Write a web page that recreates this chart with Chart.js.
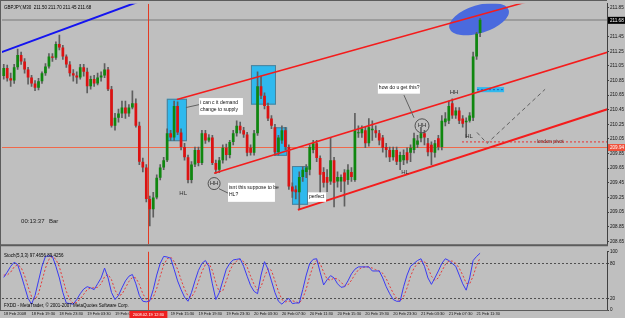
<!DOCTYPE html>
<html><head><meta charset="utf-8">
<script src="https://cdn.jsdelivr.net/npm/chart.js@4.4.0/dist/chart.umd.min.js"></script>
<style>
html,body{margin:0;padding:0;background:#bfbfbf;}
#wrap{position:relative;width:625px;height:318px;overflow:hidden;background:#bfbfbf;}
#c1{position:absolute;left:0;top:0;}
#c2{position:absolute;left:0;top:248px;}
</style></head><body>
<div id="wrap"><canvas id="c1" width="625" height="248"></canvas><canvas id="c2" width="625" height="70"></canvas></div>
<script>
// ---------- DATA ----------
const opens=[210.91,211.02,210.88,210.85,211.03,211.20,211.11,211.00,210.89,210.81,
210.75,210.84,210.95,211.04,211.18,211.16,211.35,211.30,211.18,211.07,
210.95,210.92,210.89,211.03,210.97,210.77,210.87,210.81,210.89,210.92,
211.00,210.73,210.23,210.34,210.40,210.48,210.40,210.48,210.54,210.23,
209.74,209.66,209.23,209.09,209.25,209.52,209.66,209.76,210.13,210.07,
210.50,210.14,209.94,209.80,209.49,209.70,209.90,209.72,210.13,210.03,
210.07,209.72,209.63,209.76,209.93,209.83,210.01,210.13,210.23,210.17,
210.11,209.93,209.86,210.13,210.77,210.64,210.50,210.33,210.21,209.87,
210.03,210.17,209.94,209.40,209.36,209.32,209.53,209.60,209.63,209.90,
209.99,209.79,209.60,209.53,209.47,209.76,209.47,209.47,209.59,209.49,
209.60,209.49,210.13,210.13,210.17,209.99,210.17,210.17,210.13,210.07,
209.94,209.90,209.80,209.90,209.74,209.76,209.87,209.86,209.90,209.97,
210.06,210.13,209.99,209.97,209.86,210.06,209.94,210.28,210.30,210.54,
210.37,210.44,210.33,210.28,210.30,210.34,211.18,211.50];
const highs=[211.07,211.06,210.95,211.07,211.28,211.24,211.15,211.03,210.92,210.85,
210.88,210.97,211.08,211.22,211.22,211.38,211.47,211.33,211.20,211.11,
211.00,210.97,211.07,211.07,211.02,210.91,210.92,210.95,210.97,211.08,
211.03,210.77,210.40,210.46,210.57,210.57,210.52,210.71,210.60,210.28,
209.79,209.70,209.27,209.32,209.56,209.70,209.80,210.19,210.17,210.57,
210.56,210.19,209.99,209.83,209.74,209.94,209.94,210.17,210.17,210.11,
210.10,209.76,209.80,209.97,209.98,210.03,210.17,210.30,210.28,210.21,
210.14,209.97,210.17,210.97,210.91,210.68,210.54,210.37,210.25,210.10,
210.23,210.21,209.97,209.45,209.41,209.60,209.67,209.70,209.97,210.03,
210.03,209.82,209.66,209.63,210.07,209.80,209.60,209.56,209.63,209.70,
209.66,210.40,210.23,210.23,210.21,210.33,210.30,210.23,210.17,210.10,
209.99,209.94,209.94,209.94,209.87,209.90,209.93,209.97,210.13,210.10,
210.21,210.17,210.06,210.01,210.03,210.10,210.37,210.41,210.57,210.60,
210.48,210.48,210.37,210.34,210.41,211.24,211.51,211.70];
const lows=[210.87,210.84,210.77,210.81,211.00,211.07,210.95,210.80,210.77,210.71,
210.72,210.81,210.92,211.02,211.11,211.14,211.27,211.14,211.03,210.91,
210.84,210.81,210.87,210.91,210.68,210.73,210.77,210.79,210.84,210.89,
210.71,210.21,210.17,210.28,210.34,210.33,210.36,210.46,210.21,209.70,
209.60,209.19,208.86,208.98,209.23,209.49,209.63,209.74,210.03,210.03,
210.11,209.90,209.76,209.45,209.45,209.67,209.68,209.70,209.99,210.01,
209.70,209.58,209.59,209.72,209.76,209.79,209.97,210.09,210.13,210.07,
209.82,209.83,209.83,210.10,210.60,210.46,210.30,210.19,209.83,209.83,
209.99,209.90,209.36,209.25,209.23,209.09,209.47,209.52,209.56,209.86,
209.74,209.23,209.39,209.33,209.43,209.12,209.39,209.33,209.13,209.43,
209.47,209.47,210.07,210.07,209.93,209.95,210.03,210.07,209.97,209.87,
209.80,209.74,209.76,209.70,209.63,209.70,209.72,209.74,209.86,209.93,
210.01,209.97,209.82,209.70,209.80,209.90,209.90,210.23,210.26,210.33,
210.33,210.26,210.21,210.07,210.28,210.30,211.14,211.45];
const closes=[211.02,210.88,210.85,211.03,211.20,211.11,211.00,210.89,210.81,210.75,
210.84,210.95,211.04,211.18,211.16,211.35,211.30,211.18,211.07,210.95,
210.92,210.89,211.03,210.97,210.77,210.87,210.81,210.89,210.92,211.00,
210.73,210.23,210.34,210.40,210.48,210.40,210.48,210.54,210.23,209.74,
209.66,209.23,209.09,209.25,209.52,209.66,209.76,210.13,210.07,210.50,
210.14,209.94,209.80,209.49,209.70,209.90,209.72,210.13,210.03,210.07,
209.72,209.63,209.76,209.93,209.83,210.01,210.13,210.23,210.17,210.11,
209.86,209.86,210.13,210.77,210.64,210.50,210.33,210.23,209.87,210.07,
210.17,209.94,209.40,209.33,209.32,209.53,209.63,209.66,209.94,209.99,
209.79,209.56,209.45,209.45,209.76,209.45,209.53,209.53,209.47,209.63,
209.53,210.17,210.14,210.19,209.99,210.21,210.19,210.13,210.03,209.93,
209.90,209.80,209.90,209.74,209.83,209.83,209.76,209.93,210.06,210.03,
210.13,210.07,209.87,209.87,209.99,209.94,210.30,210.33,210.50,210.37,
210.44,210.30,210.26,210.30,210.37,211.18,211.49,211.68];
const stochMain=[56,65,75,82,78,60,40,20,10,25,
50,75,92,93,92,75,55,30,12,11,
10,18,28,36,40,38,35,45,55,72,
55,30,18,25,38,50,58,61,45,25,
15,14,16,35,60,80,92,91,89,70,
50,35,22,15,30,50,68,80,85,75,
45,18,30,50,70,80,86,87,88,75,
58,42,32,28,60,83,70,50,30,15,
10,16,20,11,12,12,35,60,80,87,
88,65,43,52,59,55,45,39,40,50,
62,70,74,74,74,74,67,67,67,55,
40,28,18,15,15,40,60,75,80,85,
88,75,55,44,55,67,80,88,85,80,
75,60,45,34,55,85,92,97.47];
const stochSignal=[60,60,65,74,78,73,59,40,23,18,
28,50,72,87,92,87,74,53,32,18,
11,13,19,27,35,38,38,39,45,57,
61,52,34,24,27,38,49,56,55,44,
28,18,15,22,37,58,77,88,91,83,
70,52,36,24,22,32,49,66,78,80,
68,46,31,33,50,67,79,84,87,83,
74,58,44,34,40,57,71,68,50,32,
18,14,15,16,14,12,20,36,58,76,
85,80,65,53,51,55,53,48,41,43,
51,61,69,73,74,74,72,69,67,63,
54,41,29,20,15,23,38,58,72,80,
84,83,73,58,51,55,67,78,84,84,
80,72,60,46,45,58,77,89.43];
const priceTicks=[211.85,211.65,211.45,211.25,211.05,210.85,210.65,210.45,210.25,210.05,209.85,209.65,209.45,209.25,209.05,208.85,208.65];
const stochTicks=[100,80,20,0];
const timeTickLabels=["18 Feb 2008","18 Feb 19:30","18 Feb 23:30","19 Feb 03:30","19 Feb 07:30","","19 Feb 15:30","19 Feb 19:30","19 Feb 23:30","20 Feb 03:30","20 Feb 07:30","20 Feb 11:30","20 Feb 15:30","20 Feb 19:30","20 Feb 23:30","21 Feb 03:30","21 Feb 07:30","21 Feb 11:30"];
const slotCount=174; // bar slots incl. chart shift
const categories=Array.from({length:slotCount},(_,i)=>String(i));

// annotation objects in (bar index, price)
const vLineIndex=41.6, vLineLabel="2008.02.19 12:30";
const hLinePrice=209.94, bidPrice=211.68;
const blueLine=[[-1.1,211.23],[40,211.95]];
const channel=[[[49.8,210.59],[150,211.92]],[[60.5,209.58],[173.8,211.24]],[[84.6,209.08],[173.8,210.46]]];
const zones=[[46.9,210.60,52.7,210.02],[71.1,211.06,78.3,210.52],[77.7,210.21,81.5,209.82],[82.9,209.68,87.5,209.15]];
const smallZone=[136.1,210.76,143.9,210.69];
const notes=[
 {box:[56.2,210.61,68.8,210.38],lines:["i can c it demand","change to supply"],lead:[[52.4,210.48],[56.2,210.52]]},
 {box:[64.5,209.45,78.0,209.19],lines:["isnt this suppose to be","HL?"],lead:[[61.9,209.37],[64.5,209.31]]},
 {box:[87.5,209.32,92.7,209.19],lines:["perfect"],lead:null},
 {box:[107.6,210.81,119.7,210.67],lines:["how do u get this?"],lead:[[115.1,210.65],[118.0,210.34]]}
];
const circles=[[60.5,209.44,6],[120.3,210.23,7]];
const tags=[["HL",51.6,209.31],["HH",129.5,210.69],["HL",115.4,209.59],["HL",133.8,210.09]];
const projection=[[136.1,210.14],[139.0,209.99],[155.7,210.73]];
const pivot={price:210.01,from:131.8,label:"london pivot",labelAt:153.3};
const ellipse={i:136.7,p:211.69};
const timer=[["00:13:37",5.0,208.92],["Bar",13.0,208.92]];

// ---------- helpers ----------
const FONT='"Liberation Sans", Arial, sans-serif';
function X(c,i){return c.scales.x.getPixelForValue(i);}
function Y(c,p){return c.scales.y.getPixelForValue(p);}
function clipArea(ctx,a){ctx.beginPath();ctx.rect(a.left,a.top,a.right-a.left,a.bottom-a.top);ctx.clip();}
function seg(ctx,c,pts,color,w,dash){ctx.save();ctx.strokeStyle=color;ctx.lineWidth=w;ctx.setLineDash(dash||[]);ctx.beginPath();pts.forEach((q,k)=>{const x=X(c,q[0]),y=Y(c,q[1]);k?ctx.lineTo(x,y):ctx.moveTo(x,y);});ctx.stroke();ctx.restore();}

const wickData=lows.map((l,i)=>[l,highs[i]]);
const bodyData=opens.map((o,i)=>[o,closes[i]]);
const bodyColors=opens.map((o,i)=>closes[i]>=o?'#0f870f':'#dc1212');

const mainPlugin={id:'mt4main',
 beforeDatasetsDraw(c){const ctx=c.ctx,a=c.chartArea;ctx.save();clipArea(ctx,a);
  ctx.fillStyle='#9c9c9c';ctx.fillRect(a.left,Math.round(Y(c,bidPrice))-1,a.right-a.left,2);
  ctx.strokeStyle='#f0684a';ctx.lineWidth=1;ctx.beginPath();const hy=Math.round(Y(c,hLinePrice))+0.5;ctx.moveTo(a.left,hy);ctx.lineTo(a.right,hy);ctx.stroke();
  zones.forEach(z=>{const x1=X(c,z[0]),y1=Y(c,z[1]),x2=X(c,z[2]),y2=Y(c,z[3]);ctx.fillStyle='#2fb9ee';ctx.fillRect(x1,y1,x2-x1,y2-y1);ctx.strokeStyle='#4f7f96';ctx.lineWidth=1;ctx.strokeRect(x1+0.5,y1+0.5,x2-x1-1,y2-y1-1);});
  {const z=smallZone;const x1=X(c,z[0]),y1=Y(c,z[1]),x2=X(c,z[2]),y2=Y(c,z[3]);ctx.fillStyle='#2fb9ee';ctx.fillRect(x1,y1,x2-x1,y2-y1);ctx.strokeStyle='#2060c0';ctx.setLineDash([2,2]);ctx.beginPath();ctx.moveTo(x1,(y1+y2)/2);ctx.lineTo(x2,(y1+y2)/2);ctx.stroke();ctx.setLineDash([]);}
  ctx.fillStyle='#4a6ade';ctx.beginPath();ctx.ellipse(X(c,ellipse.i),Y(c,ellipse.p),31,14,-0.3,0,Math.PI*2);ctx.fill();
  ctx.strokeStyle='#e23a22';ctx.lineWidth=1;ctx.beginPath();const vx=Math.round(X(c,vLineIndex))+0.5;ctx.moveTo(vx,a.top);ctx.lineTo(vx,a.bottom);ctx.stroke();
  ctx.restore();},
 afterDatasetsDraw(c){const ctx=c.ctx,a=c.chartArea;ctx.save();clipArea(ctx,a);
  seg(ctx,c,blueLine,'#1414f0',2);
  seg(ctx,c,channel[0],'#f41c1c',1.6);
  seg(ctx,c,channel[1],'#f41c1c',1.6);
  seg(ctx,c,channel[2],'#f41c1c',2);
  seg(ctx,c,projection,'#606060',1,[4,3]);
  seg(ctx,c,[[pivot.from,pivot.price],[173.9,pivot.price]],'#e83030',1,[2,2]);
  ctx.font='5px '+FONT;ctx.fillStyle='#6a1a1a';ctx.textBaseline='middle';ctx.textAlign='left';
  ctx.fillText(pivot.label,X(c,pivot.labelAt),Y(c,pivot.price));
  notes.forEach(n=>{if(n.lead)seg(ctx,c,n.lead,'#606060',1);
   const x1=X(c,n.box[0]),y1=Y(c,n.box[1]),x2=X(c,n.box[2]),y2=Y(c,n.box[3]);
   ctx.fillStyle='#ffffff';ctx.fillRect(x1,y1,x2-x1,y2-y1);
   ctx.fillStyle='#101010';ctx.font='5px '+FONT;ctx.textBaseline='top';ctx.textAlign='left';
   n.lines.forEach((t,k)=>ctx.fillText(t,x1+1,y1+2+k*7));});
  circles.forEach(q=>{const x=X(c,q[0]),y=Y(c,q[1]);ctx.strokeStyle='#505050';ctx.lineWidth=1;ctx.beginPath();ctx.arc(x,y,q[2],0,Math.PI*2);ctx.stroke();
   ctx.fillStyle='#303030';ctx.font='6px '+FONT;ctx.textAlign='center';ctx.textBaseline='middle';ctx.fillText('HH',x,y);});
  tags.forEach(t=>{ctx.fillStyle='#303030';ctx.font='6px '+FONT;ctx.textAlign='center';ctx.textBaseline='middle';ctx.fillText(t[0],X(c,t[1]),Y(c,t[2]));});
  timer.forEach(t=>{ctx.fillStyle='#202020';ctx.font='6px '+FONT;ctx.textAlign='left';ctx.textBaseline='middle';ctx.fillText(t[0],X(c,t[1]),Y(c,t[2]));});
  ctx.restore();
  ctx.save();ctx.fillStyle='#000';ctx.font='4.5px '+FONT;ctx.textBaseline='middle';ctx.textAlign='left';
  ctx.fillText('GBPJPY,M30  211.50 211.70 211.45 211.68',a.left+2,a.top+4);
  ctx.fillStyle='#5c5c5c';ctx.fillRect(0,0,a.right,1);ctx.fillRect(0,0,1,248);ctx.fillRect(0,a.bottom,a.right+1,2);
  ctx.restore();},
 afterDraw(c){const ctx=c.ctx,a=c.chartArea;ctx.save();ctx.font='4.6px '+FONT;ctx.textBaseline='middle';ctx.textAlign='left';
  const by=Y(c,bidPrice);ctx.fillStyle='#000';ctx.fillRect(a.right+1,by-3,17,7);ctx.fillStyle='#fff';ctx.fillText(bidPrice.toFixed(2),a.right+3,by+0.5);
  const hy=Y(c,hLinePrice);ctx.fillStyle='#f0503a';ctx.fillRect(a.right+1,hy-3,17,7);ctx.fillStyle='#fff';ctx.fillText(hLinePrice.toFixed(2),a.right+3,hy+0.5);
  ctx.restore();}
};

new Chart(document.getElementById('c1'),{type:'bar',
 data:{labels:categories,datasets:[
  {data:wickData,backgroundColor:'#5e5e5e',barThickness:1,grouped:false,order:2},
  {data:bodyData,backgroundColor:bodyColors,barPercentage:0.78,categoryPercentage:1,grouped:false,minBarLength:1,order:1}]},
 options:{responsive:false,animation:false,devicePixelRatio:1,
  layout:{padding:{left:2,top:1,right:0,bottom:2}},
  plugins:{legend:{display:false},tooltip:{enabled:false}},
  scales:{
   x:{display:false,offset:true,grid:{display:false}},
   y:{position:'right',min:208.61,max:211.90,afterFit(s){s.width=18;},
      afterBuildTicks(s){s.ticks=priceTicks.map(v=>({value:v}));},
      ticks:{font:{family:FONT,size:4.6},color:'#101010',padding:1,callback:v=>Number(v).toFixed(2)},
      grid:{drawOnChartArea:false,tickLength:2,color:'#404040'},border:{display:true,color:'#404040'}}}},
 plugins:[mainPlugin]});

const stochPlugin={id:'stoch',
 beforeDatasetsDraw(c){const ctx=c.ctx,a=c.chartArea;ctx.save();
  ctx.strokeStyle='#505050';ctx.lineWidth=1;ctx.setLineDash([2,2]);
  [80,20].forEach(v=>{const y=Math.round(Y(c,v))+0.5;ctx.beginPath();ctx.moveTo(a.left,y);ctx.lineTo(a.right,y);ctx.stroke();});
  ctx.setLineDash([]);ctx.strokeStyle='#e23a22';const vx=Math.round(X(c,vLineIndex))+0.5;ctx.beginPath();ctx.moveTo(vx,a.top);ctx.lineTo(vx,a.bottom);ctx.stroke();
  ctx.restore();},
 afterDraw(c){const ctx=c.ctx,a=c.chartArea;ctx.save();
  ctx.fillStyle='#5c5c5c';ctx.fillRect(0,0,1,a.bottom);ctx.fillRect(0,a.bottom,a.right+1,1);
  ctx.fillStyle='#000';ctx.font='4.5px '+FONT;ctx.textAlign='left';ctx.textBaseline='middle';
  ctx.fillText('Stoch(5,3,3) 97.4656 89.4256',a.left+2,a.top+4);
  ctx.fillText('FXDD - MetaTrader, \u00a9 2001-2007 MetaQuotes Software Corp.',a.left+2,a.bottom-4);
  const vx=X(c,vLineIndex);ctx.fillStyle='#ee2020';ctx.fillRect(vx-19,a.bottom+1,38,7);
  ctx.fillStyle='#fff';ctx.textAlign='center';ctx.font='4px '+FONT;ctx.fillText(vLineLabel,vx,a.bottom+4.5);
  ctx.restore();}
};

new Chart(document.getElementById('c2'),{type:'line',
 data:{labels:categories,datasets:[
  {data:stochMain,borderColor:'#3a3af2',borderWidth:1,pointRadius:0,tension:0},
  {data:stochSignal,borderColor:'#e63a3a',borderWidth:1,borderDash:[2,2],pointRadius:0,tension:0}]},
 options:{responsive:false,animation:false,devicePixelRatio:1,
  layout:{padding:{left:2,top:1,right:0,bottom:0}},
  plugins:{legend:{display:false},tooltip:{enabled:false}},
  scales:{
   x:{offset:true,afterFit(s){s.height=8;},grid:{display:false,drawTicks:false},border:{display:false},
      ticks:{autoSkip:false,maxRotation:0,minRotation:0,align:'start',padding:1,font:{family:FONT,size:4},color:'#101010',
        callback:(v,i)=>(i%8===0&&timeTickLabels[i/8])?timeTickLabels[i/8]:''}},
   y:{position:'right',min:0,max:100,afterFit(s){s.width=18;},
      afterBuildTicks(s){s.ticks=stochTicks.map(v=>({value:v}));},
      ticks:{font:{family:FONT,size:4.6},color:'#101010',padding:1},
      grid:{drawOnChartArea:false,tickLength:2,color:'#404040'},border:{display:true,color:'#404040'}}}},
 plugins:[stochPlugin]});
</script></body></html>
